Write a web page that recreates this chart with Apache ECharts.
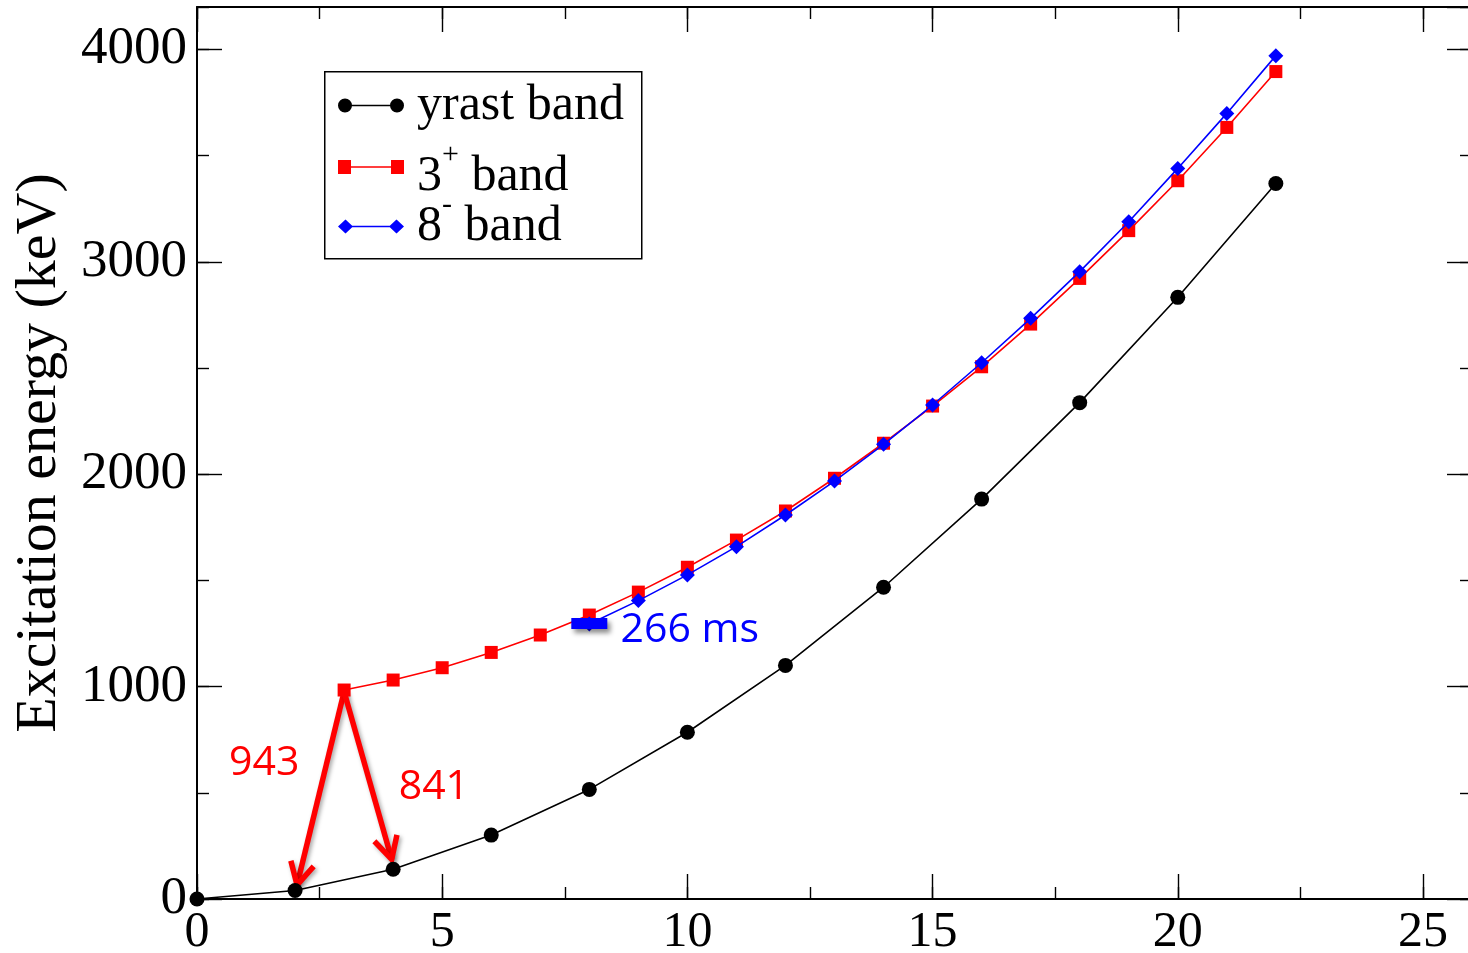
<!DOCTYPE html>
<html>
<head>
<meta charset="utf-8">
<script src="https://cdn.jsdelivr.net/npm/echarts@6/dist/echarts.min.js"></script>
<style>
html,body{margin:0;padding:0;background:#fff;}
#chart{width:1468px;height:953px;}
</style>
</head>
<body>
<div id="chart"></div>
<script>
// ---- data ----
const yrastSpin   = [0, 2, 4, 6, 8, 10, 12, 14, 16, 18, 20, 22];
const yrastEnergy = [0, 40, 140, 301, 516, 785, 1100, 1468, 1883, 2337, 2833, 3369];

const gammaSpin   = [3, 4, 5, 6, 7, 8, 9, 10, 11, 12, 13, 14, 15, 16, 17, 18, 19, 20, 21, 22];
const gammaEnergy = [984, 1031, 1089, 1161, 1243, 1337, 1445, 1562, 1690, 1827, 1981, 2146, 2321, 2506, 2707, 2922, 3147, 3382, 3633, 3896];

const octSpin     = [8, 9, 10, 11, 12, 13, 14, 15, 16, 17, 18, 19, 20, 21, 22];
const octEnergy   = [1295, 1405, 1526, 1659, 1808, 1968, 2141, 2326, 2525, 2734, 2954, 3189, 3440, 3699, 3971];

const arrowFromSpin = [3, 3];
const arrowFromE    = [976, 976];
const arrowToSpin   = [2.04, 3.97];
const arrowToE      = [66, 187];
const arrowLabels   = ['943', '841'];

const isomerSpin = 8, isomerE = 1297, isomerLabel = '266 ms';

const seriesNames = ['yrast band', '3+ band', '8- band'];
const yAxisTitle = 'Excitation energy (keV)';

// ---- chart ----
const serif = 'Liberation Serif';
const chart = echarts.init(document.getElementById('chart'), null, {renderer: 'canvas'});

function xAx(pos, interval, tickLen, showLine, showLabel) {
  return {
    type: 'value', min: 0, max: 26, interval: interval, position: pos,
    axisLine: {show: showLine, onZero: false, lineStyle: {color: '#000', width: 2}},
    axisTick: {show: true, inside: true, length: tickLen, lineStyle: {color: '#000', width: 1.4}},
    axisLabel: {show: showLabel, fontFamily: serif, fontSize: 50, color: '#000', margin: 9, showMaxLabel: false,
                formatter: v => String(v)},
    splitLine: {show: false}
  };
}
function yAx(pos, interval, tickLen, showLine, showLabel) {
  return {
    type: 'value', min: 0, max: 4200, interval: interval, position: pos,
    axisLine: {show: showLine, onZero: false, lineStyle: {color: '#000', width: 2}},
    axisTick: {show: true, inside: true, length: tickLen, lineStyle: {color: '#000', width: 1.4}},
    axisLabel: {show: showLabel, fontFamily: serif, fontSize: 53, color: '#000', margin: 10, showMaxLabel: false,
                formatter: v => String(v)},
    splitLine: {show: false}
  };
}

const yAxes = [yAx('left', 1000, 25, true, true), yAx('left', 500, 12, false, false),
               yAx('right', 1000, 25, true, false), yAx('right', 500, 12, false, false)];
yAxes[0].name = yAxisTitle;
yAxes[0].nameLocation = 'middle';
yAxes[0].nameGap = 128;
yAxes[0].nameTextStyle = {fontFamily: serif, fontSize: 58, color: '#000'};

const redColor = '#ff0000', blueColor = '#0000ff';

const icons = [
  'path://M0,7a7,7 0 1,1 14,0a7,7 0 1,1 -14,0Z M52,7a7,7 0 1,1 14,0a7,7 0 1,1 -14,0Z M13.5,6.3H52.5V7.7H13.5Z',
  'path://M0,0H13V14H0Z M53,0H66V14H53Z M12.5,6.3H53.5V7.7H12.5Z',
  'path://M0,7L7.5,0L15,7L7.5,14Z M51,7L58.5,0L66,7L58.5,14Z M7,6.3H59V7.7H7Z'
];
const legendTexts = ['{a0|yrast band}', '{b0|3}{sup|+}{b| band}', '{a0|8}{sub|-}{a| band}'];
const legendTops = [75, 136.5, 190.5];

const LH = 61;
const txt = {fontFamily: serif, fontSize: 50, color: '#000', lineHeight: LH};
const legendRich = {
  a0: Object.assign({}, txt, {padding: [0, 0, 0, 8]}),
  a: Object.assign({}, txt),
  b0: Object.assign({}, txt, {height: 41, verticalAlign: 'bottom', padding: [0, 0, 0, 8]}),
  b: Object.assign({}, txt, {height: 41, verticalAlign: 'bottom'}),
  sup: Object.assign({}, txt, {fontSize: 30, height: 38, verticalAlign: 'top'}),
  sub: Object.assign({}, txt, {fontSize: 30, height: 19, verticalAlign: 'top'})
};

const legends = seriesNames.map((n, i) => ({
  orient: 'vertical', left: 338, top: legendTops[i], padding: 0, z: 6,
  itemWidth: 66, itemHeight: 14, itemGap: 0, selectedMode: false,
  data: [{name: n, icon: icons[i]}],
  formatter: () => legendTexts[i],
  textStyle: {fontFamily: serif, fontSize: 50, color: '#000', lineHeight: LH, rich: legendRich}
}));

const option = {
  animation: false,
  backgroundColor: '#fff',
  grid: {left: 197, right: -4, top: 7, bottom: 54, containLabel: false, outerBoundsMode: 'none'},
  xAxis: [xAx('bottom', 5, 25, true, true), xAx('bottom', 2.5, 12, false, false),
          xAx('top', 5, 25, true, false), xAx('top', 2.5, 12, false, false)],
  yAxis: yAxes,
  legend: legends,
  graphic: [{
    type: 'rect', z: 5, left: 324, top: 71,
    shape: {width: 317, height: 187},
    style: {fill: '#fff', stroke: '#000', lineWidth: 1.5}
  }],
  series: [
    {
      name: 'arrows', type: 'custom', xAxisIndex: 0, yAxisIndex: 0, z: 1,
      encode: {x: [0, 2], y: [1, 3]},
      data: arrowFromSpin.map((s, i) => [s, arrowFromE[i], arrowToSpin[i], arrowToE[i]]),
      renderItem: function (params, api) {
        const p1 = api.coord([api.value(0), api.value(1)]);
        const p2 = api.coord([api.value(2), api.value(3)]);
        const dx = p2[0] - p1[0], dy = p2[1] - p1[1];
        const len = Math.sqrt(dx * dx + dy * dy);
        const bx = -dx / len, by = -dy / len;
        const hl = 25, ang = 28 * Math.PI / 180;
        const rot = (a) => [p2[0] + hl * (bx * Math.cos(a) - by * Math.sin(a)), p2[1] + hl * (bx * Math.sin(a) + by * Math.cos(a))];
        const shadow = {shadowBlur: 4, shadowColor: 'rgba(0,0,0,0.35)', shadowOffsetX: 2, shadowOffsetY: 2};
        return {
          type: 'group',
          children: [
            {type: 'line', shape: {x1: p1[0], y1: p1[1], x2: p2[0], y2: p2[1]},
             style: Object.assign({stroke: redColor, lineWidth: 5.5, lineCap: 'butt'}, shadow)},
            {type: 'polyline', shape: {points: [rot(ang), p2, rot(-ang)]},
             style: Object.assign({stroke: redColor, lineWidth: 5.5, fill: null, lineJoin: 'miter'}, shadow)}
          ]
        };
      }
    },
    {
      name: seriesNames[0], type: 'line', xAxisIndex: 0, yAxisIndex: 0, z: 3,
      data: yrastSpin.map((s, i) => [s, yrastEnergy[i]]),
      symbol: 'circle', symbolSize: 15,
      itemStyle: {color: '#000'},
      lineStyle: {color: '#000', width: 1.6}
    },
    {
      name: seriesNames[1], type: 'line', xAxisIndex: 0, yAxisIndex: 0, z: 3,
      data: gammaSpin.map((s, i) => [s, gammaEnergy[i]]),
      symbol: 'rect', symbolSize: 13,
      itemStyle: {color: redColor},
      lineStyle: {color: redColor, width: 1.6},
      markPoint: {
        symbol: 'circle', symbolSize: 1, itemStyle: {color: 'rgba(0,0,0,0)'},
        label: {show: true, position: 'inside', fontFamily: 'Open Sans', fontSize: 41, color: redColor},
        data: [
          {coord: [1.37, 640], value: arrowLabels[0], label: {formatter: arrowLabels[0]}},
          {coord: [4.83, 527], value: arrowLabels[1], label: {formatter: arrowLabels[1]}}
        ]
      }
    },
    {
      name: seriesNames[2], type: 'line', xAxisIndex: 0, yAxisIndex: 0, z: 4,
      data: octSpin.map((s, i) => [s, octEnergy[i]]),
      symbol: 'diamond', symbolSize: [15, 15],
      itemStyle: {color: blueColor},
      lineStyle: {color: blueColor, width: 1.6},
      markPoint: {
        z: 5,
        data: [
          {coord: [isomerSpin, isomerE], symbol: 'rect', symbolSize: [36, 11],
           itemStyle: {color: blueColor, shadowBlur: 5, shadowColor: 'rgba(0,0,0,0.45)', shadowOffsetX: 3, shadowOffsetY: 4},
           label: {show: false}},
          {coord: [10.05, 1267], symbol: 'circle', symbolSize: 1, itemStyle: {color: 'rgba(0,0,0,0)'},
           label: {show: true, position: 'inside', formatter: isomerLabel, fontFamily: 'Open Sans', fontSize: 41, color: blueColor}}
        ]
      }
    }
  ]
};
chart.setOption(option);
</script>
</body>
</html>
